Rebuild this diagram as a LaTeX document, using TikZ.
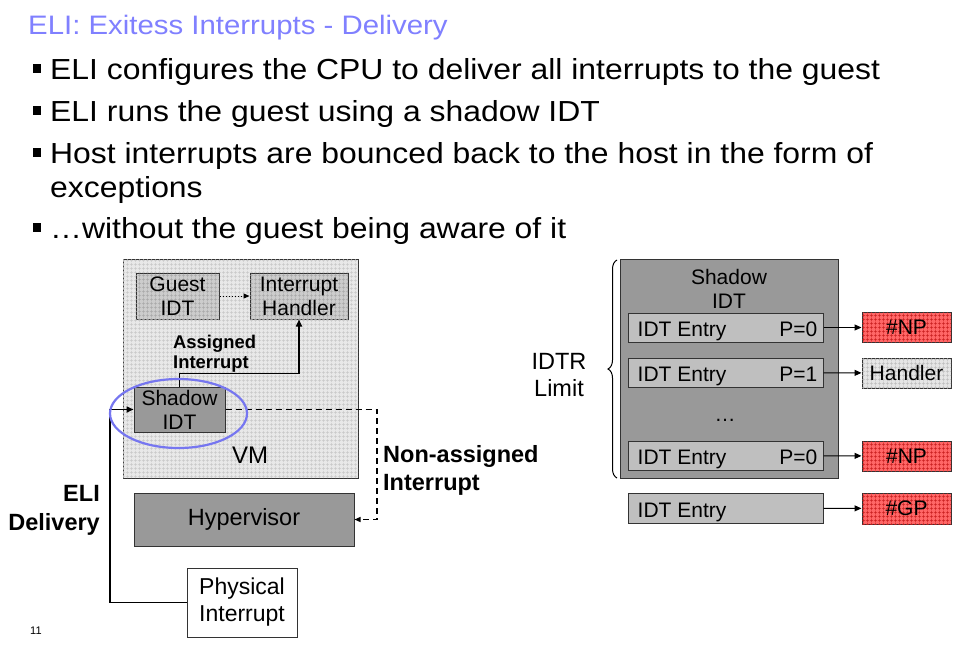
\documentclass[tikz,border=0pt]{standalone}
\usepackage{fontspec}
\setmainfont{Liberation Sans}
\newfontfamily\widefont{Liberation Sans}[FakeStretch=1.1]
\usetikzlibrary{positioning,calc}
\usetikzlibrary{arrows.meta,patterns.meta,decorations.pathreplacing}
\definecolor{titleblue}{RGB}{128,128,255}
\definecolor{ringblue}{RGB}{118,118,240}
\definecolor{npred}{RGB}{255,102,102}
\definecolor{npgrid}{RGB}{200,30,30}
\tikzset{gridfill/.style 2 args={fill=#1, postaction={pattern={Hatch[angle=0,distance=4pt,line width=0.45pt]}, pattern color=#2}}}
\tikzstyle{bul} = [anchor=base west, inner sep=0, font=\widefont\fontsize{29}{34}\selectfont]
\tikzstyle{txt} = [inner sep=0, font=\fontsize{21}{24}\selectfont]
\tikzstyle{lbox} = [txt, draw=black!80, line width=1pt, align=center]
\tikzstyle{vmbox} = [lbox, gridfill={black!9}{black!22}]
\tikzstyle{gbox} = [lbox, gridfill={black!20}{black!34}]
\tikzstyle{darkbox} = [lbox, fill=black!40]
\tikzstyle{entrybox} = [lbox, fill=black!25]
\tikzstyle{redbox} = [lbox, gridfill={npred}{npgrid}]
\tikzstyle{hbox} = [lbox, gridfill={black!10}{black!26}]
\tikzstyle{conn} = [line width=1.6pt,->,>={Triangle[length=7pt,width=6pt]}]
\tikzstyle{thinconn} = [line width=1pt,->,>={Triangle[length=7pt,width=6pt]}]

\begin{document}
\begin{tikzpicture}[x=1pt,y=-1pt]
      \useasboundingbox[fill=white] (0,0) rectangle (971,659);
      %%%%%%%%%%%%%%%%%%%%%%%%%%%%%%%%%%%%%%%
      \node (title) [anchor=base west, inner sep=0, text=titleblue, font=\widefont\fontsize{26.7}{31}\selectfont] at (28,34) {ELI: Exitess Interrupts - Delivery};
      \node (b1) [bul] at (50,79) {ELI configures the CPU to deliver all interrupts to the guest};
      \node (b2) [bul] at (50,121) {ELI runs the guest using a shadow IDT};
      \node (b3) [bul] at (50,163) {Host interrupts are bounced back to the host in the form of};
      \node (b3b) [bul] at (50,197) {exceptions};
      \node (b5) [bul] at (50,238) {…without the guest being aware of it};
      \foreach \y in {79,121,163,238} \fill (32.5,\y-15) rectangle ++(8.5,8.5);
      %%%%%%%%%%%%%%%%%%%%%%%%%%%%%%%%%%%%%%%
      % left picture
      \draw (240.5,368.5) node (vm) [vmbox, minimum width=235pt, minimum height=219pt] {};
      \node (vmlbl) [txt, anchor=base, font=\fontsize{24}{28}\selectfont] at (250,463) {VM};
      \draw (177.5,296) node (gidt) [gbox, minimum width=83pt, minimum height=46pt] {Guest\\IDT};
      \draw (299,296) node (ih) [gbox, minimum width=98pt, minimum height=46pt] {Interrupt\\Handler};
      \draw (179.5,409.5) node (sidt) [darkbox, minimum width=91pt, minimum height=45pt] {Shadow\\IDT};
      \draw (244,519.5) node (hv) [darkbox, minimum width=220pt, minimum height=53pt, font=\fontsize{23.5}{27}\selectfont] {Hypervisor};
      \draw (242,602.5) node (phys) [lbox, fill=white, minimum width=110pt, minimum height=69pt, font=\fontsize{23}{27}\selectfont] {Physical\\Interrupt};
      \coordinate (nacorner) at (377,519.5);
      \coordinate (edcorner) at (110,602.5);
      \draw [line width=1pt, dotted, ->, >={Triangle[length=6pt,width=5pt]}] (gidt) -- (ih);
      \draw [conn] (sidt.north) -- ++(0,-13) -| (ih.south);
      \draw [line width=1.2pt, dash pattern=on 6pt off 4pt, ->, >={Triangle[length=6pt,width=5pt]}] (sidt.east) -| (nacorner) -- (hv.east);
      \draw [conn] (phys.west) -- (edcorner) |- (sidt.west);
      \draw [draw=ringblue, line width=2.2pt] (178.5,413.5) ellipse [x radius=68.5, y radius=34.5];
      \node (asg) [anchor=base west, inner sep=0, font=\bfseries\fontsize{18.4}{19.7}\selectfont] at (173,348.3) {Assigned};
      \node (asg2) [anchor=base west, inner sep=0, font=\bfseries\fontsize{18.4}{19.7}\selectfont] at (173,368) {Interrupt};
      \node (nas) [anchor=base west, inner sep=0, font=\bfseries\fontsize{23.5}{27}\selectfont] at (383,462.3) {Non-assigned};
      \node (nas2) [anchor=base west, inner sep=0, font=\bfseries\fontsize{23.5}{27}\selectfont] at (383,490) {Interrupt};
      \node (eli) [anchor=base east, inner sep=0, font=\bfseries\fontsize{23.5}{27}\selectfont] at (100,501.7) {ELI};
      \node (eli2) [anchor=base east, inner sep=0, font=\bfseries\fontsize{23.5}{27}\selectfont] at (100,530) {Delivery};
      \node (pg) [anchor=base west, inner sep=0, font=\fontsize{11}{13}\selectfont] at (30,634) {11};
      %%%%%%%%%%%%%%%%%%%%%%%%%%%%%%%%%%%%%%%
      % right picture
      \draw (729,368.5) node (shr) [darkbox, minimum width=218pt, minimum height=219pt] {};
      \node (shrlbl) [txt, align=center] at (729,289) {Shadow\\IDT};
      \draw [line width=1pt, decorate, decoration={brace, amplitude=9pt}] (617,478) -- (617,260);
      \node (idtr) [txt, align=center, font=\fontsize{23.5}{27}\selectfont] at (559,375) {IDTR\\Limit};
      \draw (725.5,327.5) node (e1) [entrybox, minimum width=195pt, minimum height=29pt] {};
      \draw (725.5,372.5) node (e2) [entrybox, minimum width=195pt, minimum height=29pt] {};
      \draw (725.5,455.5) node (e3) [entrybox, minimum width=195pt, minimum height=29pt] {};
      \draw (725.5,508) node (e4) [entrybox, minimum width=195pt, minimum height=30pt] {};
      \node (e1t) [txt, anchor=base west] at ($(e1.south west)+(10,-6)$) {IDT Entry};
      \node (e1p) [txt, anchor=base east] at ($(e1.south east)+(-6,-6)$) {P=0};
      \node (e2t) [txt, anchor=base west] at ($(e2.south west)+(10,-6)$) {IDT Entry};
      \node (e2p) [txt, anchor=base east] at ($(e2.south east)+(-6,-6)$) {P=1};
      \node (dots) [txt, anchor=base] at (725,421) {…};
      \node (e3t) [txt, anchor=base west] at ($(e3.south west)+(10,-6)$) {IDT Entry};
      \node (e3p) [txt, anchor=base east] at ($(e3.south east)+(-6,-6)$) {P=0};
      \node (e4t) [txt, anchor=base west] at ($(e4.south west)+(10,-6)$) {IDT Entry};
      \draw (906.5,327.5) node (np1) [redbox, minimum width=89pt, minimum height=30pt] {\#NP};
      \draw (906.5,373) node (hd) [hbox, minimum width=89pt, minimum height=30pt] {Handler};
      \draw (906.5,456) node (np2) [redbox, minimum width=89pt, minimum height=30pt] {\#NP};
      \draw (906.5,508.5) node (gp) [redbox, minimum width=89pt, minimum height=31pt] {\#GP};
      \draw [thinconn] (e1) -- (np1);
      \draw [thinconn] (e2) -- (hd);
      \draw [thinconn] (e3) -- (np2);
      \draw [thinconn] (e4) -- (gp);
\end{tikzpicture}
\end{document}
